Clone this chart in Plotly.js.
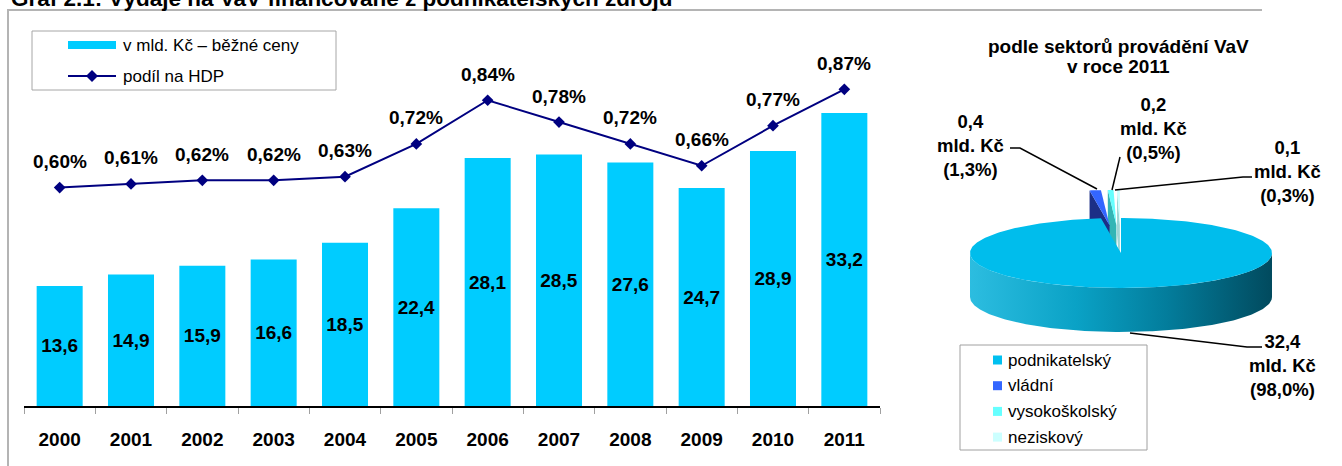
<!DOCTYPE html>
<html>
<head>
<meta charset="utf-8">
<script src="https://cdn.plot.ly/plotly-3.0.1.min.js"></script>
<style>html,body{margin:0;padding:0;background:#fff;}#chart{width:1342px;height:466px;}</style>
</head>
<body>
<div id="chart"></div>
<script>
// ---------- data ----------
const chartTitle = 'Graf 2.1: Výdaje na VaV financované z podnikatelských zdrojů';
const years = ['2000','2001','2002','2003','2004','2005','2006','2007','2008','2009','2010','2011'];
const spending = [13.6, 14.9, 15.9, 16.6, 18.5, 22.4, 28.1, 28.5, 27.6, 24.7, 28.9, 33.2];
const gdpShare = [0.60, 0.61, 0.62, 0.62, 0.63, 0.72, 0.84, 0.78, 0.72, 0.66, 0.77, 0.87];
const seriesNames = ['v mld. Kč – běžné ceny', 'podíl na HDP'];
const pieTitleLines = ['podle sektorů provádění VaV', 'v roce 2011'];
const sectors = ['podnikatelský', 'vládní', 'vysokoškolský', 'neziskový'];
const sectorValues = [32.4, 0.4, 0.2, 0.1];
const sectorShares = [98.0, 1.3, 0.5, 0.3];
const sectorColors = ['#00bdec', '#3366ff', '#66ffff', '#ccffff'];
const sectorWallColors = ['#0a8fb0', '#1c2f86', '#33b5b5', '#9fd6d6'];

// ---------- helpers ----------
const W = 1342, H = 466;
const FONT = 'Arial, "Liberation Sans", sans-serif';
const fmt1 = v => v.toFixed(1).replace('.', ',');
const fmt2 = v => v.toFixed(2).replace('.', ',');
const BAR_COLOR = '#00ccff', LINE_COLOR = '#000080';

// bar chart plot area (pixels)
const plotL = 24, plotR = 880, plotB = 406, plotT = 25;
const barScale = 8.825, lineScale = 364; // px per unit

const traces = [];
traces.push({
  type: 'bar', x: years, y: spending, name: seriesNames[0],
  marker: {color: BAR_COLOR, line: {width: 0}},
  text: spending.map(fmt1), textposition: 'inside', insidetextanchor: 'middle',
  textangle: 0, constraintext: 'none',
  textfont: {family: FONT, size: 19, color: '#000', weight: 'bold'},
  hoverinfo: 'skip', xaxis: 'x', yaxis: 'y'
});
traces.push({
  type: 'scatter', mode: 'lines+markers', x: years, y: gdpShare, name: seriesNames[1],
  line: {color: LINE_COLOR, width: 2},
  marker: {symbol: 'diamond', size: 9, color: LINE_COLOR},
  hoverinfo: 'skip', xaxis: 'x', yaxis: 'y2'
});

// ---------- pseudo-3D pie (pixel coordinate overlay x2/y3) ----------
const cx = 1121, cy = 253, ra = 151, rb = 35, depth = 44, pull = 0.8;
const total = sectorValues.reduce((s, v) => s + v, 0);
function pt(theta, dz, off) {
  const r = theta * Math.PI / 180;
  return [cx + ra * Math.sin(r) + off[0], cy - rb * Math.cos(r) + dz + off[1]];
}
function arc(t0, t1, dz, off) {
  const pts = [];
  const n = Math.max(2, Math.ceil(Math.abs(t1 - t0)));
  for (let i = 0; i <= n; i++) pts.push(pt(t0 + (t1 - t0) * i / n, dz, off));
  return pts;
}
function poly(pts, fillcolor, extra) {
  const t = {
    type: 'scatter', mode: 'lines', x: pts.map(p => p[0]), y: pts.map(p => p[1]),
    fill: 'toself', fillcolor: fillcolor, line: {width: 0, color: fillcolor},
    hoverinfo: 'skip', xaxis: 'x2', yaxis: 'y3', showlegend: false
  };
  return Object.assign(t, extra || {});
}
const angles = [];
let acc = 0;
sectorValues.forEach(v => { const t0 = acc / total * 360; acc += v; angles.push([t0, acc / total * 360]); });

// main slice side wall (front half)
{
  const [t0, t1] = angles[0];
  const s0 = Math.max(90, t0), s1 = Math.min(270, t1);
  const top = arc(s0, s1, 0, [0, 0]);
  const bot = arc(s1, s0, depth, [0, 0]);
  traces.push(poly(top.concat(bot), sectorWallColors[0], {
    fillgradient: {type: 'horizontal', colorscale: [[0, '#2cbde0'], [0.35, '#0aa2c6'], [0.65, '#037d9c'], [1, '#014a5e']]}
  }));
}
// small exploded slices
for (let i = sectorValues.length - 1; i >= 1; i--) {
  const [t0, t1] = angles[i];
  const mid = (t0 + t1) / 2 * Math.PI / 180;
  const off = [ra * Math.sin(mid) * pull, -rb * Math.cos(mid) * pull];
  const c0 = [cx + off[0], cy + off[1]];
  const r0 = pt(t0, 0, off);
  const wall = [c0, r0, [r0[0], r0[1] + depth], [c0[0], c0[1] + depth], c0];
  traces.push(poly(wall, sectorWallColors[i]));
  traces.push(poly([c0].concat(arc(t0, t1, 0, off), [c0]), sectorColors[i]));
}
// main slice top face
{
  const [t0, t1] = angles[0];
  const c0 = [cx, cy];
  traces.push(poly([c0].concat(arc(t0, t1, 0, [0, 0]), [c0]), sectorColors[0]));
}

// ---------- shapes & annotations ----------
const shapes = [];
const annotations = [];
const pxLine = (pts, color, width) => ({
  type: 'path', xref: 'x2', yref: 'y3', layer: 'above',
  path: 'M' + pts.map(p => p[0] + ',' + p[1]).join(' L'),
  line: {color: color, width: width}
});
// outer frame
shapes.push(pxLine([[8, 466], [8, 10], [1262, 10]], '#b4b4b4', 2));
// clipped chart title
annotations.push({xref: 'x2', yref: 'y3', x: 9, y: 13, xanchor: 'left', yanchor: 'bottom',
  text: chartTitle, showarrow: false, font: {family: FONT, size: 22.5, color: '#000', weight: 'bold'}});

// left legend
shapes.push({type: 'rect', xref: 'x2', yref: 'y3', x0: 32, x1: 336, y0: 31, y1: 90, line: {color: '#a6a6a6', width: 1}, fillcolor: 'rgba(0,0,0,0)'});
shapes.push({type: 'rect', xref: 'x2', yref: 'y3', x0: 68, x1: 116, y0: 41, y1: 49, line: {width: 0}, fillcolor: BAR_COLOR});
shapes.push(pxLine([[68, 76], [116, 76]], LINE_COLOR, 2));
shapes.push({type: 'path', xref: 'x2', yref: 'y3', path: 'M92,70 L98,76 L92,82 L86,76 Z', fillcolor: LINE_COLOR, line: {width: 0}});
[45, 76].forEach((yy, i) => annotations.push({xref: 'x2', yref: 'y3', x: 121, y: yy, xanchor: 'left', yanchor: 'middle',
  text: seriesNames[i], showarrow: false, font: {family: FONT, size: 17, color: '#000'}}));

// line value labels (category index positions)
years.forEach((yr, i) => annotations.push({xref: 'x', yref: 'y2', x: i, y: gdpShare[i], yshift: 26,
  xanchor: 'center', yanchor: 'middle', text: fmt2(gdpShare[i]) + '%', showarrow: false,
  font: {family: FONT, size: 19, color: '#000', weight: 'bold'}}));

// pie title
pieTitleLines.forEach((t, i) => annotations.push({xref: 'x2', yref: 'y3', x: 1118, y: 46 + i * 20.5,
  xanchor: 'center', yanchor: 'middle', text: t, showarrow: false,
  font: {family: FONT, size: 19, color: '#000', weight: 'bold'}}));

// pie labels + leader lines
const labelPos = [[1282, 365], [970, 145], [1153, 128], [1287, 171]];
const leaders = [
  [[1130, 333], [1247, 347], [1262, 347]],
  [[1097, 189], [1020, 148], [1010, 148]],
  [[1112, 190], [1120, 157]],
  [[1115, 190], [1243, 177], [1252, 177]]
];
sectors.forEach((s, i) => {
  annotations.push({xref: 'x2', yref: 'y3', x: labelPos[i][0], y: labelPos[i][1], xanchor: 'center', yanchor: 'middle',
    text: fmt1(sectorValues[i]) + '<br>mld. Kč<br>(' + fmt1(sectorShares[i]) + '%)', showarrow: false, align: 'center',
    font: {family: FONT, size: 18.5, color: '#000', weight: 'bold'}});
  shapes.push(pxLine(leaders[i], '#000', 1.5));
});

// pie legend
shapes.push({type: 'rect', xref: 'x2', yref: 'y3', x0: 960, x1: 1147, y0: 345, y1: 450, line: {color: '#a0a0a0', width: 1}, fillcolor: 'rgba(0,0,0,0)'});
sectors.forEach((s, i) => {
  const yy = 360 + i * 25.7;
  shapes.push({type: 'rect', xref: 'x2', yref: 'y3', x0: 993, x1: 1002, y0: yy - 4.5, y1: yy + 4.5, line: {width: 0}, fillcolor: i === 0 ? '#00c0f0' : sectorColors[i]});
  annotations.push({xref: 'x2', yref: 'y3', x: 1006, y: yy, xanchor: 'left', yanchor: 'middle', text: s, showarrow: false,
    font: {family: FONT, size: 17, color: '#000'}});
});

const layout = {
  width: W, height: H, margin: {l: 0, r: 0, t: 0, b: 0, pad: 0},
  paper_bgcolor: '#fff', plot_bgcolor: 'rgba(0,0,0,0)', showlegend: false, bargap: 0.355,
  font: {family: FONT, color: '#000'},
  xaxis: {domain: [plotL / W, plotR / W], type: 'category', categoryorder: 'array', categoryarray: years,
    range: [-0.5, years.length - 0.5], autorange: false, anchor: 'y', showline: true, linecolor: '#000', linewidth: 1.5,
    ticks: 'outside', tickson: 'boundaries', ticklen: 6, tickcolor: '#a0a0a0', tickwidth: 1, tickangle: 0,
    tickfont: {family: FONT, size: 19, color: '#000', weight: 'bold'}, ticklabelstandoff: 16,
    showgrid: false, zeroline: false, fixedrange: true},
  yaxis: {domain: [(H - plotB) / H, (H - plotT) / H], range: [0, (plotB - plotT) / barScale], autorange: false, visible: false, fixedrange: true},
  yaxis2: {overlaying: 'y', range: [0, (plotB - plotT) / lineScale], autorange: false, visible: false, fixedrange: true},
  xaxis2: {domain: [0, 1], range: [0, W], autorange: false, anchor: 'y3', visible: false, fixedrange: true},
  yaxis3: {domain: [0, 1], range: [H, 0], autorange: false, anchor: 'x2', visible: false, fixedrange: true},
  shapes: shapes, annotations: annotations
};
Plotly.newPlot('chart', traces, layout, {staticPlot: true, displayModeBar: false});
</script>
</body>
</html>
